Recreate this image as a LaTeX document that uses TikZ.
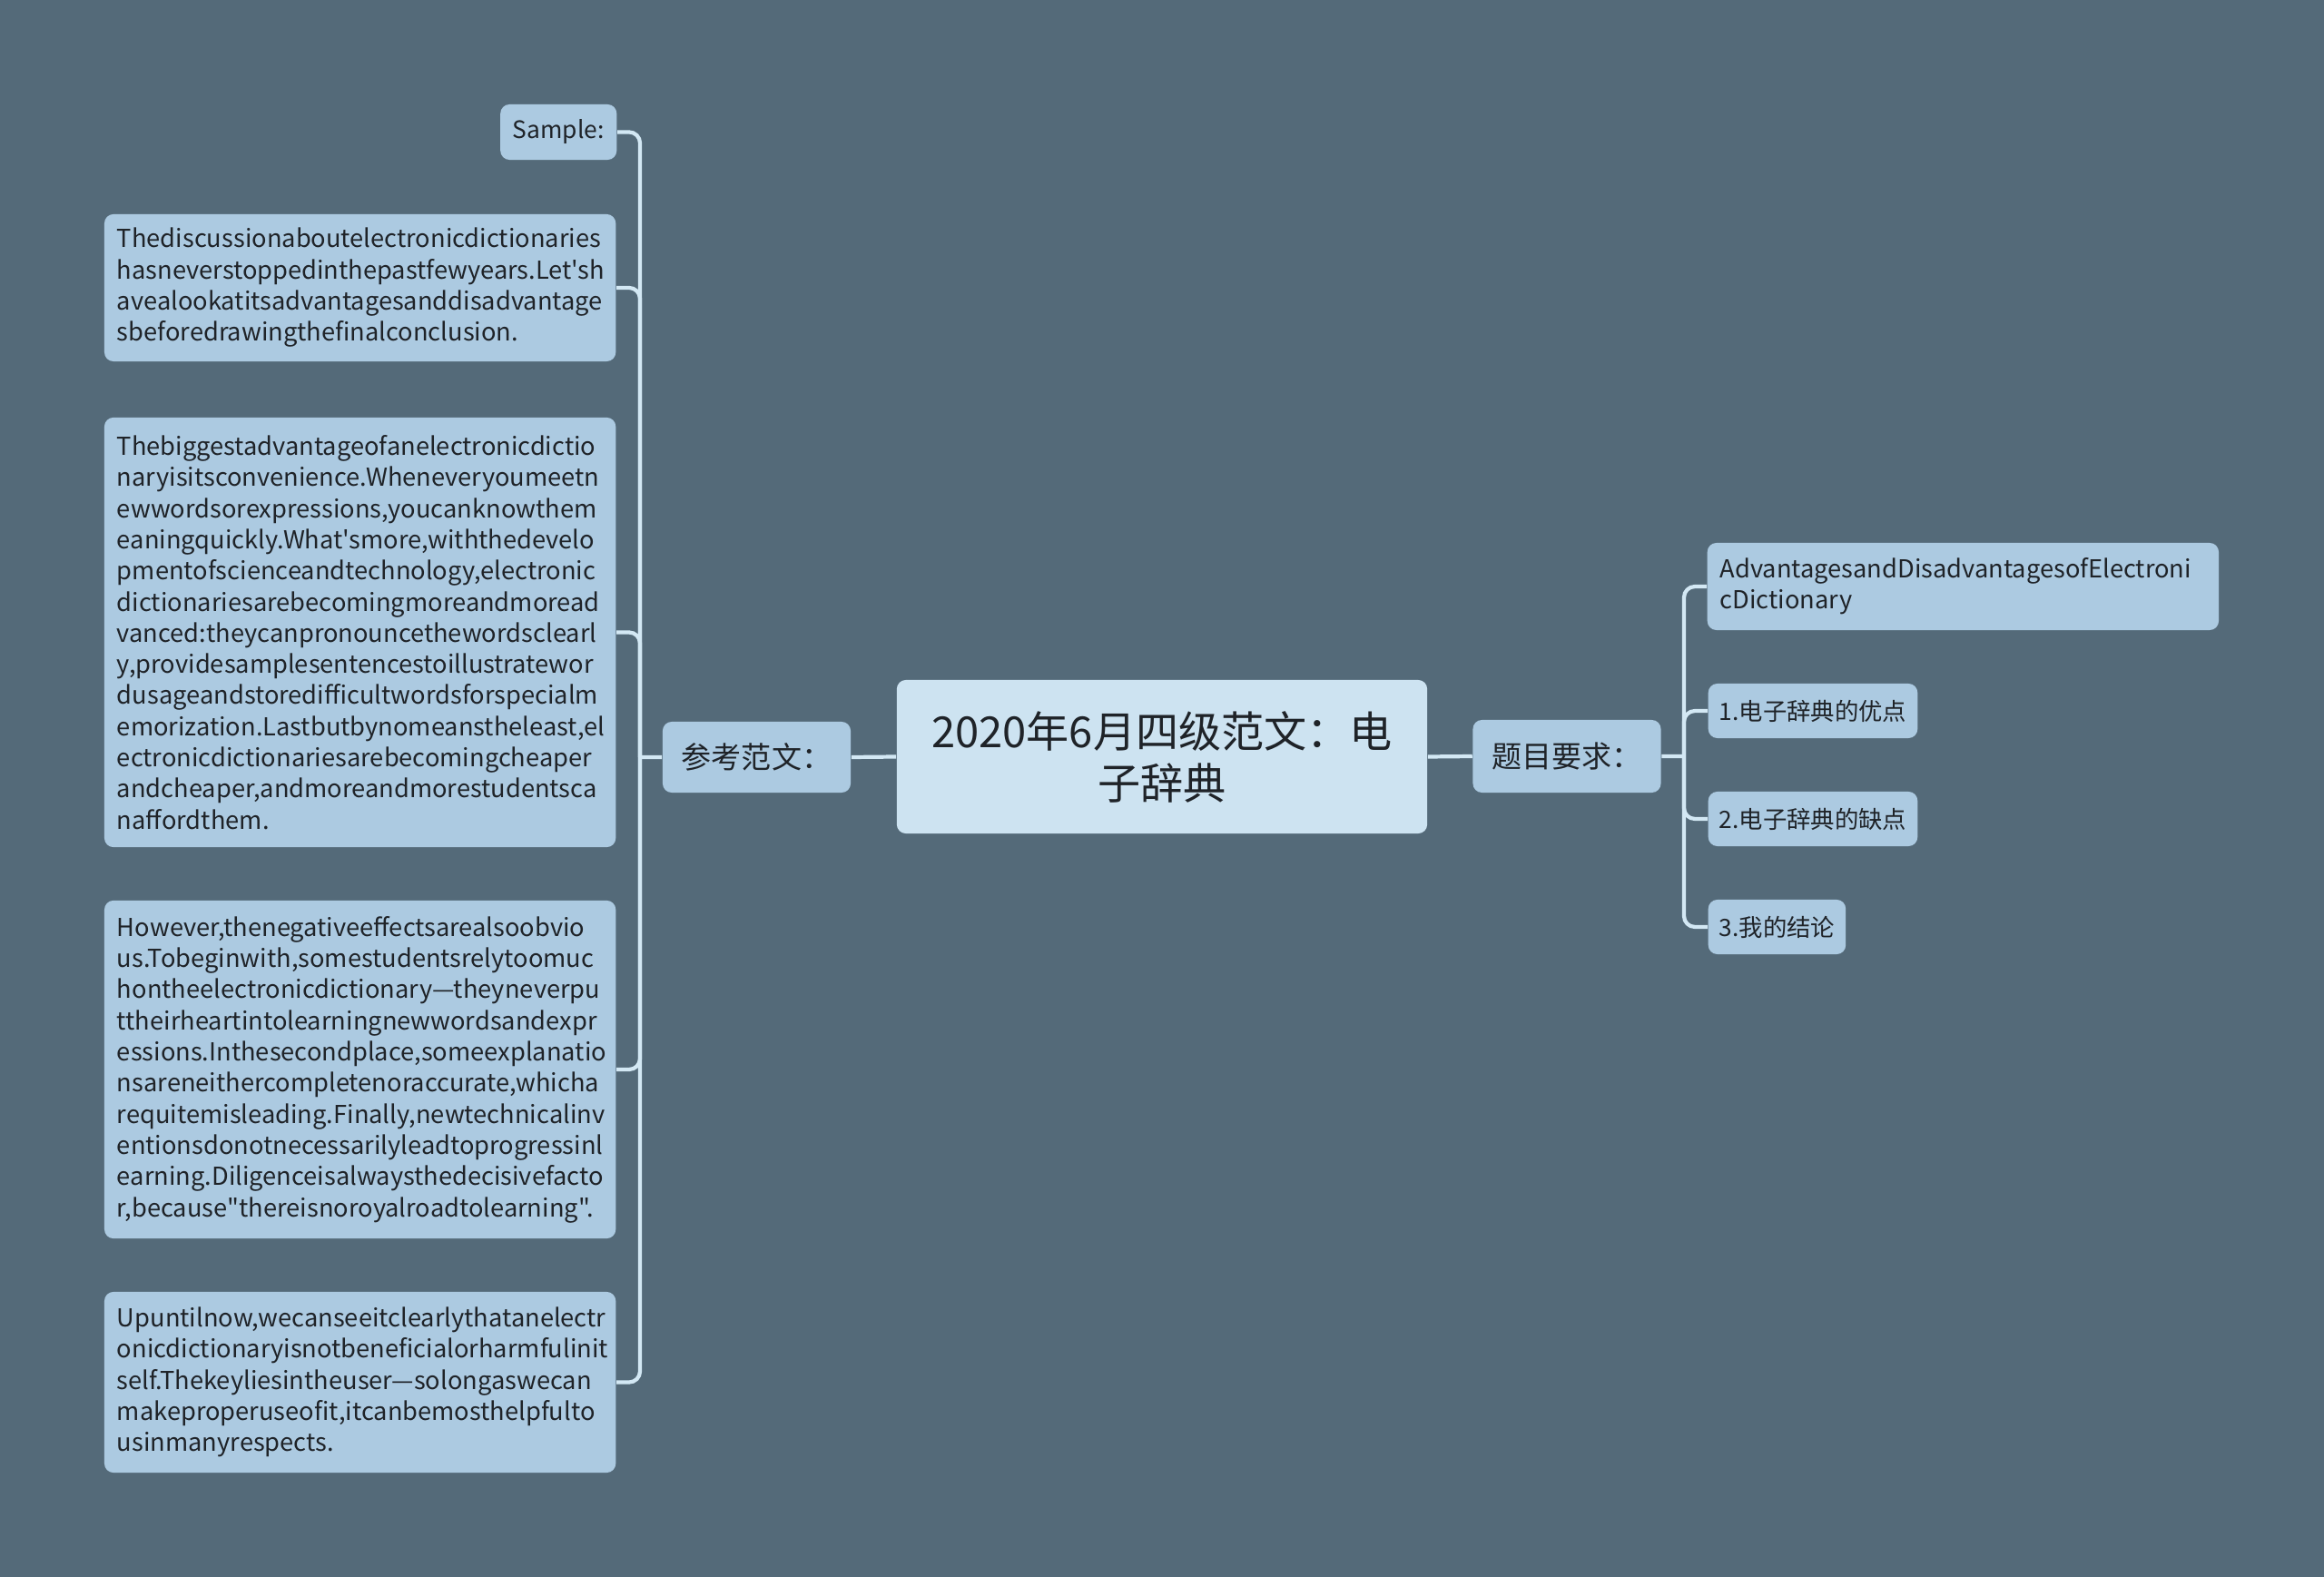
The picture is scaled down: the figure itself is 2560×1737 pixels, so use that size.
\documentclass[tikz,border=0pt]{standalone}
\usepackage{fontspec}
\newfontfamily\cjk{Noto Sans CJK SC}
\definecolor{bgslate}{HTML}{546A79}
\definecolor{leafblue}{HTML}{ACCAE1}
\definecolor{rootblue}{HTML}{CDE3F1}
\definecolor{linkblue}{HTML}{D3E8F4}
\definecolor{inkdark}{HTML}{1F2328}
\hyphenpenalty=10000
\exhyphenpenalty=10000

\begin{document}
\begin{tikzpicture}[x=0.01cm,y=-0.01cm,
	box/.style={fill=leafblue,rounded corners=0.1cm,text=inkdark,inner xsep=0.12cm,inner ysep=0pt},
	leaf/.style={box,align=left,inner xsep=0.14cm,text width=5.35cm,font=\cjk\fontsize{7.75}{9.76}\selectfont},
	small/.style={font=\cjk\fontsize{7.5}{9.76}\selectfont},
	branch/.style={draw=linkblue,line width=1.2pt,rounded corners=0.12cm}]
	\fill[bgslate] (0,0) rectangle (2560,1737);
	\useasboundingbox (0,0) rectangle (2560,1737);
	% centre and the two branches
	\node[box,fill=rootblue,align=center,minimum width=5.84cm,minimum height=1.69cm,font=\cjk\fontsize{13.4}{16.2}\selectfont] (root) at (1280,833.5) {2020年6月四级范文：电\\子辞典};
	\node[box,minimum width=2.07cm,minimum height=0.78cm,font=\cjk\fontsize{9.4}{11}\selectfont] (ref) at (833.5,834) {参考范文：};
	\node[box,minimum width=2.07cm,minimum height=0.80cm,font=\cjk\fontsize{9.4}{11}\selectfont] (req) at (1726,833) {题目要求：};
	% left side
	\node[box,small,anchor=east,minimum width=1.28cm,minimum height=0.61cm] (sample) at (680,145.5) {Sample:};
	\node[leaf,anchor=east,minimum height=1.62cm] (disc) at (679,317) {Thediscussionaboutelectronicdictionaries\\hasneverstoppedinthepastfewyears.Let'sh\\avealookatitsadvantagesanddisadvantage\\sbeforedrawingthefinalconclusion.};
	\node[leaf,anchor=east,minimum height=4.73cm] (big) at (679,696.5) {Thebiggestadvantageofanelectronicdictio\\naryisitsconvenience.Wheneveryoumeetn\\ewwordsorexpressions,youcanknowthem\\eaningquickly.What'smore,withthedevelo\\pmentofscienceandtechnology,electronic\\dictionariesarebecomingmoreandmoread\\vanced:theycanpronouncethewordsclearl\\y,providesamplesentencestoillustratewor\\dusageandstoredifficultwordsforspecialm\\emorization.Lastbutbynomeanstheleast,el\\ectronicdictionariesarebecomingcheaper\\andcheaper,andmoreandmorestudentsca\\naffordthem.};
	\node[leaf,anchor=east,minimum height=3.72cm] (neg) at (679,1178) {However,thenegativeeffectsarealsoobvio\\us.Tobeginwith,somestudentsrelytoomuc\\\mbox{hontheelectronicdictionary—theyneverpu}\\ttheirheartintolearningnewwordsandexpr\\essions.Inthesecondplace,someexplanatio\\nsareneithercompletenoraccurate,whicha\\requitemisleading.Finally,newtechnicalinv\\entionsdonotnecessarilyleadtoprogressinl\\earning.Diligenceisalwaysthedecisivefacto\\r,because"thereisnoroyalroadtolearning".};
	\node[leaf,anchor=east,minimum height=1.99cm] (summary) at (679,1522.5) {Upuntilnow,wecanseeitclearlythatanelectr\\onicdictionaryisnotbeneficialorharmfulinit\\\mbox{self.Thekeyliesintheuser—solongaswecan}\\makeproperuseofit,itcanbemosthelpfulto\\usinmanyrespects.};
	% right side
	\node[leaf,anchor=west,minimum height=0.96cm] (adv) at (1880,646) {AdvantagesandDisadvantagesofElectroni\\cDictionary};
	\node[box,small,anchor=west,minimum height=0.60cm] (pro) at (1881,783) {1.电子辞典的优点};
	\node[box,small,anchor=west,minimum height=0.60cm] (con) at (1881,902) {2.电子辞典的缺点};
	\node[box,small,anchor=west,minimum height=0.60cm] (myview) at (1881,1021) {3.我的结论};
	% connectors
	\coordinate (lj) at (705,834);
	\coordinate (rj) at (1855,833);
	\draw[branch] (ref.east) -- (root.west) (root.east) -- (req.west) (ref.west) -- (lj) (req.east) -- (rj);
	\foreach \n in {sample,disc,big,neg,summary} \draw[branch] (lj) |- (\n.east);
	\foreach \n in {adv,pro,con,myview} \draw[branch] (rj) |- (\n.west);
\end{tikzpicture}
\end{document}
